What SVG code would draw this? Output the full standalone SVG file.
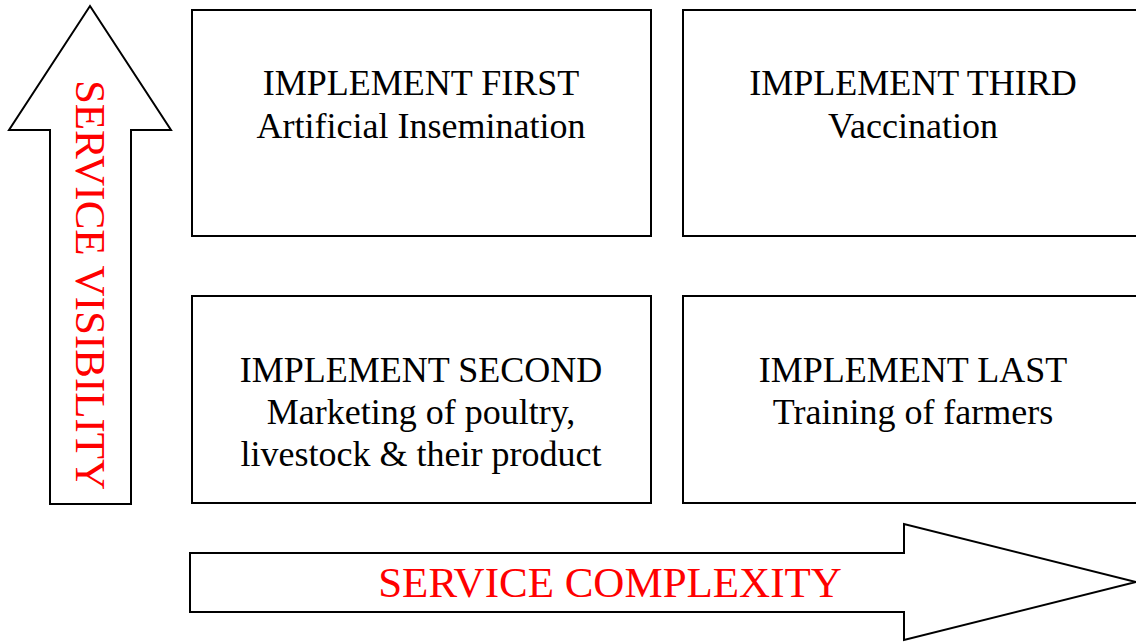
<svg xmlns="http://www.w3.org/2000/svg" width="1136" height="643" viewBox="0 0 1136 643">
<style>
.box{fill:#fff;stroke:#000;stroke-width:2}
.arr{fill:#fff;stroke:#000;stroke-width:2;stroke-linejoin:miter}
.t{font-family:"Liberation Serif","Times New Roman",serif;font-size:36px;fill:#000;text-anchor:middle}
.r{font-family:"Liberation Serif","Times New Roman",serif;font-size:43px;fill:#ff0000;text-anchor:middle}
</style>
<rect width="1136" height="643" fill="#fff"/>
<g id="connectors">
<g id="visibility-arrow">
<polygon class="arr" points="90,6 171,130 131,130 131,504 50,504 50,130 9,130"/>
<text class="r" transform="translate(90,285) rotate(90)" y="14">SERVICE VISIBILITY</text>
</g>
<g id="complexity-arrow">
<polygon class="arr" points="190,553 904,553 904,524 1136,582 904,640 904,612 190,612"/>
<text class="r" x="610" y="597">SERVICE COMPLEXITY</text>
</g>
</g>
<g id="box-first">
<rect class="box" x="192" y="10" width="459" height="226"/>
<text class="t" x="421" y="95">IMPLEMENT FIRST</text>
<text class="t" x="421" y="138">Artificial Insemination</text>
</g>
<g id="box-third">
<rect class="box" x="683" y="10" width="462" height="226"/>
<text class="t" x="913" y="95">IMPLEMENT THIRD</text>
<text class="t" x="913" y="138">Vaccination</text>
</g>
<g id="box-second">
<rect class="box" x="192" y="296" width="459" height="207"/>
<text class="t" x="421" y="382">IMPLEMENT SECOND</text>
<text class="t" x="421" y="424">Marketing of poultry,</text>
<text class="t" x="421" y="466">livestock &amp; their product</text>
</g>
<g id="box-last">
<rect class="box" x="683" y="296" width="462" height="207"/>
<text class="t" x="913" y="382">IMPLEMENT LAST</text>
<text class="t" x="913" y="424">Training of farmers</text>
</g>
</svg>
